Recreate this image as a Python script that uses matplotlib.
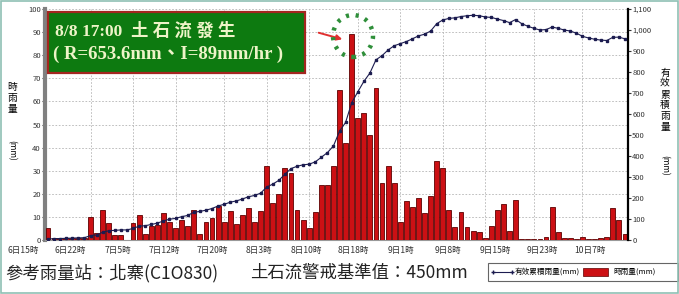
import matplotlib
matplotlib.use("Agg")
import matplotlib.pyplot as plt
from matplotlib.patches import Rectangle, Ellipse
import numpy as np

plt.rcParams['font.family'] = ['Noto Sans CJK TC', 'DejaVu Sans']

# hourly rainfall (mm), 6日15時 onward
rain = [5, 1, 1, 1, 1, 1, 1, 10, 3, 13, 7.5, 2, 2, 0, 7.5, 11, 2.5, 6, 6.5, 11.5,
        8, 5, 8.7, 6, 13, 2.5, 8, 9.7, 14.7, 8, 12.5, 7, 11, 14, 8, 12.5, 32, 16, 20, 31,
        29, 13, 8.7, 5, 12, 24, 24, 32, 65, 42, 89, 53, 55, 45.5, 66, 24.5, 32, 24.5, 8, 17,
        14.5, 18, 11.5, 19, 34, 31, 13, 5.5, 12, 5.5, 4, 3.5, 1, 6, 13, 15.5, 4, 17.5, 0.3, 0.3,
        0.3, 0.3, 1.5, 14.5, 3.5, 1, 1, 0.3, 1.5, 0.3, 0.3, 1, 1.5, 14, 8.5, 2.5]

# effective cumulative rainfall (mm)
cum = [5, 6, 7, 8, 9, 10, 11, 21, 24, 37, 44, 46, 48, 48, 55, 66, 68, 74, 80, 91,
       99, 103, 111, 117, 132, 136, 142, 150, 162, 170, 180, 186, 195, 206, 212, 223, 252, 266, 284, 313,
       340, 351, 358, 361, 372, 394, 416, 448, 518, 560, 653.6, 705, 755, 795, 858, 878, 905, 925, 935, 945,
       958, 972, 980, 995, 1030, 1048, 1055, 1058, 1064, 1068, 1070, 1068, 1062, 1060, 1052, 1045, 1035, 1050, 1030, 1018,
       1008, 1000, 1002, 1014, 1008, 1000, 995, 985, 970, 962, 956, 952, 950, 965, 966, 958]

grid_pos = [7, 14, 21, 29, 36, 43, 51, 58, 65, 72, 80, 88]
tick_labels = ["6日15時", "6日22時", "7日5時", "7日12時", "7日20時", "8日3時", "8日10時",
               "8日18時", "9日1時", "9日8時", "9日15時", "9日23時", "10日7時"]

W, H = 679, 294
fig = plt.figure(figsize=(W / 100, H / 100), dpi=100)
fig.patch.set_facecolor('white')

def fx(px):
    return px / W

def fy(py):
    return 1 - py / H

ax = fig.add_axes([fx(45), fy(240), fx(628) - fx(45), fy(9) - fy(240)])
x = np.arange(len(rain))
ax.bar(x, rain, width=0.8, color='#cc1014', edgecolor='#5c0000', linewidth=0.6, zorder=3)
ax.set_xlim(-0.5, len(rain) - 0.5)
ax.set_ylim(0, 100)
ax.set_yticks(range(0, 101, 10))
ax.tick_params(axis='y', labelsize=5.5, length=2, pad=1, colors='#333333')
ax.set_xticks(grid_pos)
ax.set_xticklabels([])
ax.tick_params(axis='x', length=0)
ax.grid(True, color='#b4b4b4', linestyle=(0, (2, 2)), linewidth=0.6, zorder=0)
ax.set_axisbelow(True)
ax.spines['left'].set_color('#808080')
ax.spines['left'].set_linewidth(3)
ax.spines['top'].set_visible(False)
ax.spines['right'].set_visible(False)
ax.spines['bottom'].set_color('#999999')

# category labels, evenly spread below the axis
n_lab = len(tick_labels)
for k, lab in enumerate(tick_labels):
    px = 23 + (590 - 23) * k / (n_lab - 1)
    fig.text(fx(px), fy(251), lab, fontsize=6.2, ha='center', va='center', color='#333333')

ax2 = ax.twinx()
ax2.plot(x, cum, color='#1c1c50', linewidth=0.8, marker='s', markersize=1.6, zorder=4)
ax2.set_ylim(0, 1100)
ax2.set_yticks(range(0, 1101, 100))
ax2.set_yticklabels([f"{v:,}" for v in range(0, 1101, 100)])
ax2.tick_params(axis='y', labelsize=5.5, length=2, pad=1, colors='#333333')
ax2.spines['right'].set_color('black')
ax2.spines['right'].set_linewidth(1.6)
for s in ['top', 'left', 'bottom']:
    ax2.spines[s].set_visible(False)

# axis titles (stacked)
fig.text(fx(12), fy(98), "時\n雨\n量", fontsize=7, ha='center', va='center', linespacing=1.1)
fig.text(fx(12), fy(150), "(mm)", fontsize=6, ha='center', va='center', rotation=-90)
fig.text(fx(665), fy(100), "有\n效\n累\n積\n雨\n量", fontsize=7, ha='center', va='center', linespacing=1.1)
fig.text(fx(665), fy(165), "(mm)", fontsize=6, ha='center', va='center', rotation=-90)

# annotation box
fig.patches.append(Rectangle((fx(48), fy(73)), fx(305) - fx(48), fy(12) - fy(73),
                             transform=fig.transFigure, facecolor='#0d7a10',
                             edgecolor='#a3261f', linewidth=1.6, zorder=5))
fig.text(fx(55), fy(31), "8/8 17:00  土 石 流 發 生", fontsize=12.5, color='#eef4c8',
         fontweight='bold', ha='left', va='center',
         family=['Liberation Serif', 'Noto Sans CJK TC'], zorder=6)
fig.text(fx(53), fy(54), "( R=653.6mm、I=89mm/hr )", fontsize=13.5, color='#eef4c8',
         fontweight='bold', ha='left', va='center',
         family=['Liberation Serif', 'Noto Sans CJK TC'], zorder=6)

# dotted circle & arrow
fig.patches.append(Ellipse((fx(353), fy(36)), 40 / W, 42 / H, transform=fig.transFigure,
                           facecolor='none', edgecolor='#2f8f3a', linewidth=3.2,
                           linestyle=(0, (0.7, 1.5)), zorder=7))
ax.annotate("", xy=(fx(345), fy(40)), xytext=(fx(316), fy(32)),
            xycoords='figure fraction', textcoords='figure fraction',
            arrowprops=dict(arrowstyle='-|>', color='#e03030', lw=1.4, mutation_scale=8))

# bottom texts
fig.text(fx(5), fy(273), "參考雨量站：北寨(C1O830)", fontsize=12.5, ha='left', va='center', color='#222222')
fig.text(fx(250), fy(273), "土石流警戒基準值：450mm", fontsize=12.5, ha='left', va='center', color='#222222')

# legend box
fig.patches.append(Rectangle((fx(488), fy(281)), fx(678) - fx(488), fy(263) - fy(281),
                             transform=fig.transFigure, facecolor='white',
                             edgecolor='#666666', linewidth=0.8))
fig.lines.append(plt.Line2D([fx(493), fx(512)], [fy(272), fy(272)], transform=fig.transFigure,
                            color='#1c1c50', lw=0.8, marker='+', ms=3))
fig.text(fx(515), fy(272), "有效累積雨量(mm)", fontsize=5.5, ha='left', va='center')
fig.patches.append(Rectangle((fx(583), fy(276)), fx(608) - fx(583), fy(268) - fy(276),
                             transform=fig.transFigure, facecolor='#cc1014', edgecolor='#5c0000', lw=0.5))
fig.text(fx(613), fy(272), "時雨量(mm)", fontsize=5.5, ha='left', va='center')

# outer frame
fig.patches.append(Rectangle((0.001, 0.002), 0.997, 0.995, transform=fig.transFigure,
                             facecolor='none', edgecolor='#8fc0b4', linewidth=1.2))

fig.savefig("out.png", dpi=100)
